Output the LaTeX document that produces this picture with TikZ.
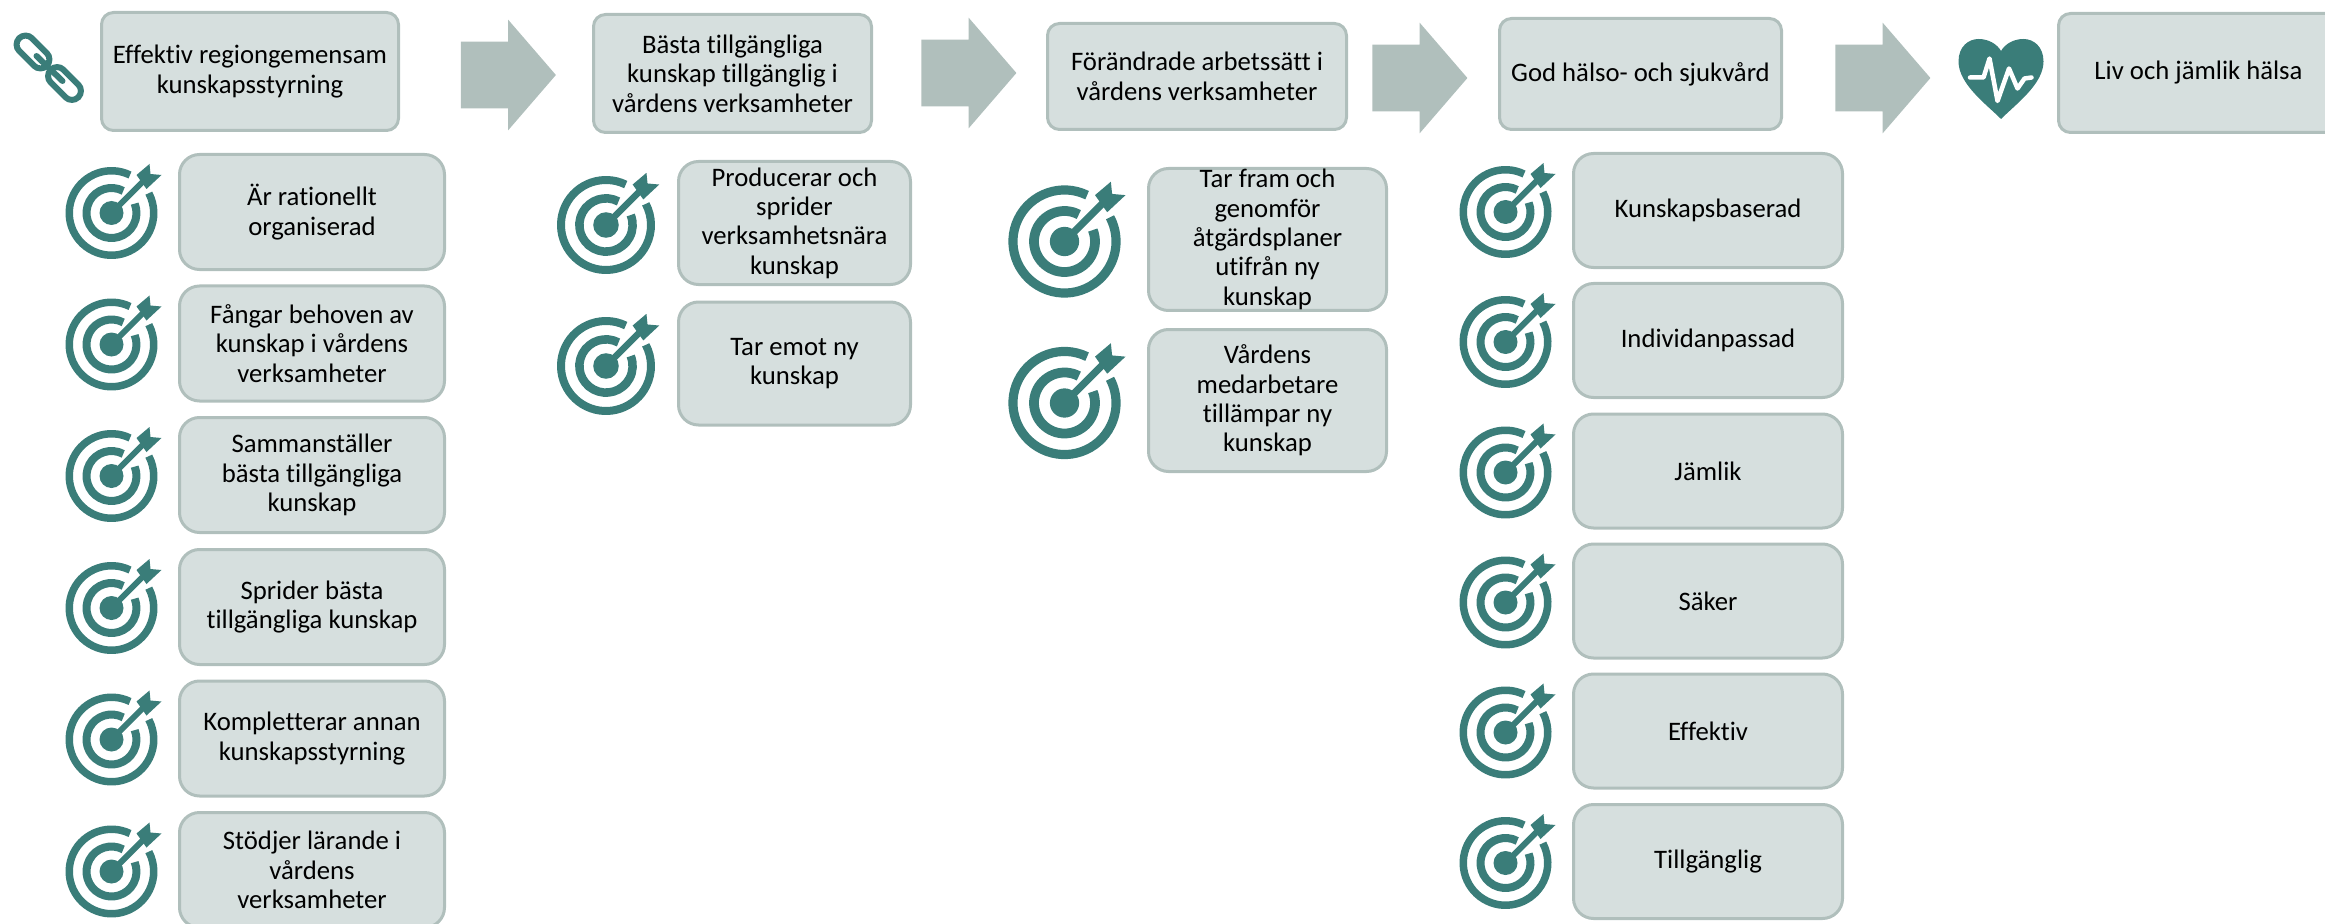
\documentclass[tikz,border=0pt]{standalone}
\usepackage{fontspec}
\setmainfont[Ligatures=NoCommon]{Carlito}
\usepackage{tikz}
\usetikzlibrary{arrows,shapes.arrows}

\definecolor{boxfill}{HTML}{D6DFDE}
\definecolor{boxline}{HTML}{B0BFBC}
\definecolor{iconteal}{HTML}{3A7D79}

\tikzset{
  headbox/.style={draw=boxline, fill=boxfill, line width=.06cm, rounded corners=.24cm,
    align=center, inner sep=0, font=\fontsize{15.2pt}{16.7pt}\selectfont},
  goalbox/.style={headbox, rounded corners=.4cm},
  bigarrow/.style={single arrow, fill=boxline, inner xsep=0, inner ysep=.66cm, minimum height=1.9cm, minimum width=2.2cm,
    single arrow head extend=.44cm, single arrow tip angle=98.4},
  link/.style={draw=iconteal, line width=.12cm, rounded corners=.18cm},
  pics/goal/.style={code={
    \begin{scope}[scale=#1]
      \draw[iconteal, line width=#1*.15cm] (64:.845) arc[start angle=64, end angle=388, radius=.845];
      \draw[iconteal, line width=#1*.16cm] (62:.5) arc[start angle=62, end angle=382, radius=.5];
      \fill[iconteal] (0, 0) circle(.24);
      \draw[iconteal, line width=#1*.12cm] (0, 0) -- (.62, .62);
      \fill[iconteal] (.76, .98) -- (.78, .78) -- (1, .76) -- (.7, .48) -- (.5, .76) --cycle;
    \end{scope}
  }}
}

\begin{document}
\begin{tikzpicture}
  \path[use as bounding box, clip] (0, 0) rectangle(46.5, -18.48);

  % top row
  \draw (5, -1.43) node[headbox, minimum width=5.94cm, minimum height=2.36cm] (regional) {Effektiv regiongemensam\\kunskapsstyrning};
  \draw (14.65, -1.47) node[headbox, minimum width=5.56cm, minimum height=2.36cm] (knowledge) {Bästa tillgängliga\\kunskap tillgänglig i\\vårdens verksamheter};
  \draw (23.94, -1.53) node[headbox, minimum width=5.98cm, minimum height=2.12cm] (practice) {Förändrade arbetssätt i\\vårdens verksamheter};
  \draw (32.81, -1.48) node[headbox, minimum width=5.64cm, minimum height=2.22cm] (care) {God hälso- och sjukvård};
  \draw (43.97, -1.46) node[headbox, minimum width=5.6cm, minimum height=2.38cm] (health) {Liv och jämlik hälsa};

  \draw (9.88, -1.5) node[bigarrow] (arrowa) {};
  \draw (19.09, -1.46) node[bigarrow] (arrowb) {};
  \draw (28.11, -1.56) node[bigarrow] (arrowc) {};
  \draw (37.37, -1.56) node[bigarrow] (arrowd) {};

  % chain
  \draw[link, shift={(.66, -1.04)}, rotate=-45] (-.39, -.18) rectangle(.39, .18);
  \draw[link, shift={(1.29, -1.67)}, rotate=-45] (-.39, -.18) rectangle(.39, .18);
  \draw[iconteal, line width=.12cm, line cap=round] (.73, -1.12) -- (1.25, -1.62);

  % heart
  \begin{scope}[shift={(40.02, -2.38)}]
    \fill[iconteal] (0, 0) .. controls (-.3, .3) and (-.85, .7) .. (-.85, 1.15)
      .. controls (-.85, 1.45) and (-.65, 1.6) .. (-.45, 1.6)
      .. controls (-.25, 1.6) and (-.08, 1.5) .. (0, 1.36)
      .. controls (.08, 1.5) and (.25, 1.6) .. (.45, 1.6)
      .. controls (.65, 1.6) and (.85, 1.45) .. (.85, 1.15)
      .. controls (.85, .7) and (.3, .3) .. (0, 0) --cycle;
    \draw[white, line width=.09cm, line join=round, line cap=round] (-.62, .83) -- (-.35, .83) -- (-.23, 1.21) -- (-.07, .36) -- (.16, 1.01) -- (.33, .61) -- (.47, .81) -- (.61, .83);
  \end{scope}

  % first column
  \tikzset{every node/.append style={minimum width=5.3cm, minimum height=2.3cm}}
  \pic at (2.23, -4.26) {goal=1};
  \pic at (2.23, -6.89) {goal=1};
  \pic at (2.23, -9.52) {goal=1};
  \pic at (2.23, -12.16) {goal=1};
  \pic at (2.23, -14.79) {goal=1};
  \pic at (2.23, -17.43) {goal=1};
  \draw (6.24, -4.24) node[goalbox] (rational) {Är rationellt\\organiserad};
  \draw (6.24, -6.87) node[goalbox] (needs) {Fångar behoven av\\kunskap i vårdens\\verksamheter};
  \draw (6.24, -9.5) node[goalbox] (compile) {Sammanställer\\bästa tillgängliga\\kunskap};
  \draw (6.24, -12.14) node[goalbox] (spread) {Sprider bästa\\tillgängliga kunskap};
  \draw (6.24, -14.77) node[goalbox] (extra) {Kompletterar annan\\kunskapsstyrning};
  \draw (6.24, -17.4) node[goalbox] (learn) {Stödjer lärande i\\vårdens\\verksamheter};

  % second column
  \tikzset{every node/.append style={minimum width=4.64cm, minimum height=2.46cm}}
  \pic at (12.12, -4.5) {goal=1.065};
  \pic at (12.12, -7.32) {goal=1.065};
  \draw (15.89, -4.46) node[goalbox] (produce) {Producerar och\\sprider\\verksamhetsnära\\kunskap};
  \draw (15.89, -7.27) node[goalbox] (receive) {Tar emot ny\\kunskap};

  % third column
  \tikzset{every node/.append style={minimum width=4.76cm, minimum height=2.84cm}}
  \pic at (21.29, -4.83) {goal=1.22};
  \pic at (21.29, -8.06) {goal=1.22};
  \draw (25.35, -4.79) node[goalbox] (plans) {Tar fram och\\genomför\\åtgärdsplaner\\utifrån ny\\kunskap};
  \draw (25.35, -8.01) node[goalbox] (staff) {Vårdens\\medarbetare\\tillämpar ny\\kunskap};

  % fourth column
  \tikzset{every node/.append style={minimum width=5.38cm, minimum height=2.28cm}}
  \pic at (30.11, -4.24) {goal=1};
  \pic at (30.11, -6.84) {goal=1};
  \pic at (30.11, -9.45) {goal=1};
  \pic at (30.11, -12.05) {goal=1};
  \pic at (30.11, -14.65) {goal=1};
  \pic at (30.11, -17.26) {goal=1};
  \draw (34.16, -4.21) node[goalbox] (based) {Kunskapsbaserad};
  \draw (34.16, -6.81) node[goalbox] (person) {Individanpassad};
  \draw (34.16, -9.42) node[goalbox] (equal) {Jämlik};
  \draw (34.16, -12.02) node[goalbox] (safe) {Säker};
  \draw (34.16, -14.62) node[goalbox] (effective) {Effektiv};
  \draw (34.16, -17.23) node[goalbox] (access) {Tillgänglig};
\end{tikzpicture}
\end{document}
